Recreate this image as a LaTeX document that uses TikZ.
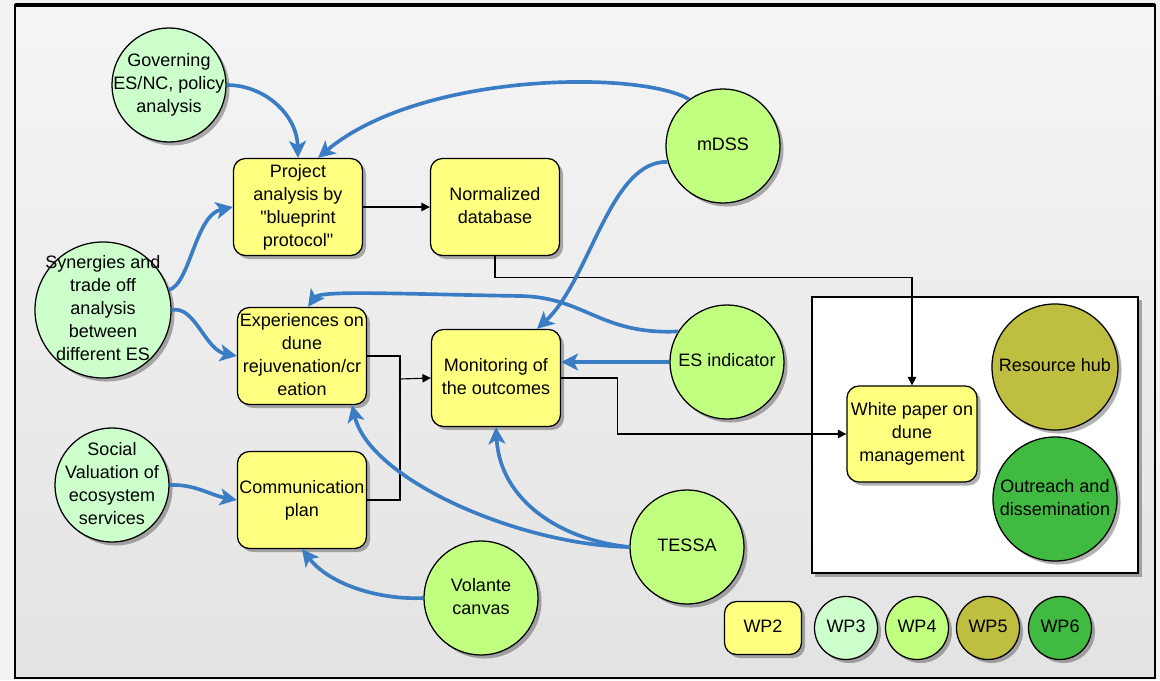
\documentclass[tikz,border=0pt]{standalone}
\usepackage{fontspec}
\setmainfont{Liberation Sans}[Ligatures=TeXOff]
\usetikzlibrary{arrows.meta,shadows}

\definecolor{boxyellow}{HTML}{FFFF80}
\definecolor{wpthree}{HTML}{CCFFCC}
\definecolor{wpfour}{HTML}{C0FF80}
\definecolor{wpfive}{HTML}{BEBE40}
\definecolor{wpsix}{HTML}{40BA40}
\definecolor{flowblue}{HTML}{3B7DC4}
\definecolor{pagegray}{HTML}{F3F3F3}

% centred multi-line text that does not widen its node
\newcommand\ctxt[1]{\makebox[0pt]{\begin{tabular}{@{}c@{}}#1\end{tabular}}}

\begin{document}
\begin{tikzpicture}[x=0.025cm,y=-0.025cm,
  every node/.style={font=\fontsize{12.8}{16.4}\selectfont},
  shd/.style={drop shadow={shadow xshift=2.5pt,shadow yshift=-2.5pt,opacity=0.3,fill=black}},
  box/.style={shd,draw=black,line width=0.9pt,fill=boxyellow,rounded corners=0.3cm,
    minimum width=3.225cm,minimum height=2.425cm,inner sep=0pt},
  circ/.style={shd,draw=black,circle,line width=0.9pt,minimum size=2.85cm,inner sep=0pt},
  flow/.style={draw=flowblue,line width=2.6pt,
    -{Stealth[length=12pt,width=12pt,inset=3pt]}},
  link/.style={draw=black,line width=0.8pt,-{Triangle[length=6pt,width=6pt]}},
  plain/.style={draw=black,line width=0.8pt}
]
\useasboundingbox (0,0) rectangle (1160,680);
\fill[pagegray] (0,0) rectangle (1160,680);

% outer frame with a light vertical gradient
\shade[top color=white!96!black,bottom color=white!89!black] (15,5) rectangle (1155,678);
\draw[line width=1.4pt] (15,5) rectangle (1155,678);
\draw[line width=2.4pt] (15,5) -- (1155,5);

% output group
\node[shd,draw=black,line width=0.9pt,fill=white,minimum width=8.15cm,minimum height=6.9cm,inner sep=0pt]
  (grp) at (975,435) {};

% inputs and tools
\node[circ,fill=wpthree] (gov) at (169,85) {\ctxt{Governing\\ES/NC, policy\\analysis}};
\node[circ,fill=wpthree,minimum size=3.4cm] (syn) at (103,310)
  {\ctxt{Synergies and\\trade off\\analysis\\between\\different ES}};
\node[circ,fill=wpthree] (soc) at (112,485) {\ctxt{Social\\Valuation of\\ecosystem\\services}};
\node[circ,fill=wpfour] (mdss) at (723,146) {\ctxt{mDSS}};
\node[circ,fill=wpfour] (es) at (727,362) {\ctxt{ES indicator}};
\node[circ,fill=wpfour] (tessa) at (687,547) {\ctxt{TESSA}};
\node[circ,fill=wpfour] (vol) at (481,598) {\ctxt{Volante\\canvas}};

% work steps
\node[box] (proj) at (298,207)
  {\ctxt{Project\\analysis by\\"blueprint\\protocol"}};
\node[box] (norm) at (495,207) {\ctxt{Normalized\\database}};
\node[box] (exp) at (302,356) {\ctxt{Experiences on\\dune\\rejuvenation/cr\\eation}};
\node[box] (mon) at (496,378) {\ctxt{Monitoring of\\the outcomes}};
\node[box] (com) at (302,500) {\ctxt{Communication\\plan}};
\node[box,minimum width=3.25cm,minimum height=2.4cm] (wp) at (912,434)
  {\ctxt{White paper on\\dune\\management}};
\node[circ,fill=wpfive,minimum size=3.15cm] (res) at (1055,367) {\ctxt{Resource hub}};
\node[circ,fill=wpsix,minimum size=3.1cm] (out) at (1055,499) {\ctxt{Outreach and\\dissemination}};

% legend
\node[box,minimum width=1.925cm,minimum height=1.325cm] (lwp2) at (763,628) {\ctxt{WP2}};
\node[circ,fill=wpthree,minimum size=1.575cm] (lwp3) at (846,628) {\ctxt{WP3}};
\node[circ,fill=wpfour,minimum size=1.575cm] (lwp4) at (917,628) {\ctxt{WP4}};
\node[circ,fill=wpfive,minimum size=1.575cm] (lwp5) at (988,628) {\ctxt{WP5}};
\node[circ,fill=wpsix,minimum size=1.575cm] (lwp6) at (1060,628) {\ctxt{WP6}};

% process flow (black)
\coordinate (jn) at (400,379);
\draw[link] (proj.east) -- (norm.west);
\draw[link] (norm.south) -- ++(0,21) -| (wp.north);
\draw[plain] (exp.east) -| (jn);
\draw[plain] (com.east) -| (jn);
\draw[link] (jn) -- (mon.west);
\draw[link] (mon.east) -- ++(56,0) |- (wp.west);

% contributions (blue)
\draw[flow] (gov.east) .. controls (265,85) and (297,115) .. (proj.north);
\draw[flow] (mdss.126) .. controls (640,70) and (420,72) .. ([xshift=0.5cm]proj.north);
\draw[flow] (syn.17) .. controls (190,285) and (195,215) .. (proj.west);
\draw[flow] (syn.east) .. controls (195,305) and (205,350) .. (exp.west);
\draw[flow] (mdss.196) .. controls (610,160) and (590,280) .. ([xshift=1.025cm]mon.north);
\draw[flow] (es.148) .. controls (600,335) and (585,297) .. (520,296)
  .. controls (400,294) and (320,290) .. ([xshift=0.15cm]exp.north);
\draw[flow] (es.west) -- (mon.east |- es.west);
\draw[flow] (tessa.west) .. controls (520,545) and (370,480) .. ([xshift=1.25cm]exp.south);
\draw[flow] (tessa.west) .. controls (560,540) and (500,500) .. (mon.south);
\draw[flow] (soc.east) .. controls (195,484) and (210,495) .. (com.west);
\draw[flow] (vol.west) .. controls (380,600) and (330,585) .. (com.south);
\end{tikzpicture}
\end{document}
